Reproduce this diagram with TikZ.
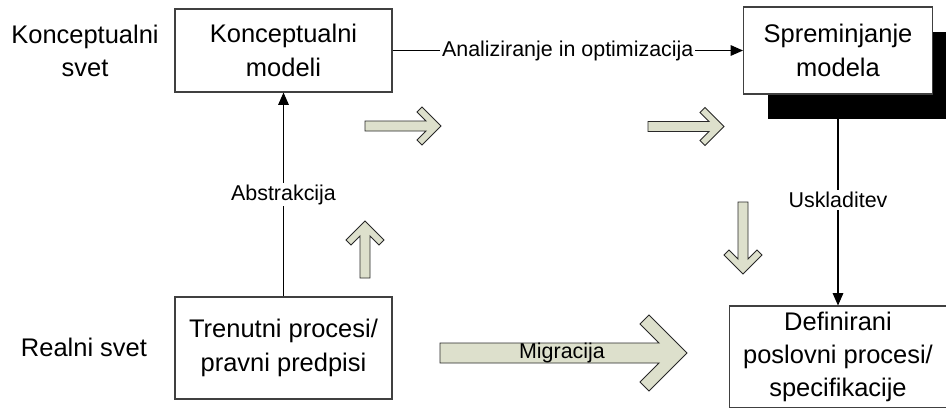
\documentclass[tikz,border=0pt]{standalone}
\usepackage{fontspec}
\setmainfont{Liberation Sans}
\usetikzlibrary{arrows.meta,shadows}

\definecolor{arrowfill}{RGB}{221,224,204}
\definecolor{arrowline}{RGB}{40,40,40}

% Chevron block arrow: tip x, tip y, angle, length, shaft half-width, head reach, arm cap
\newcommand\chevron[7]{%
  \draw[blockarrow, shift={(#1,#2)}, rotate=#3]
    (0,0) -- (-#6,-#6) -- ({-#6-#7},{-#6+#7}) -- ({-#5-2*#7},-#5) -- (-#4,-#5)
    -- (-#4,#5) -- ({-#5-2*#7},#5) -- ({-#6-#7},{#6-#7}) -- (-#6,#6) -- cycle;}

\tikzset{
  bigtext/.style={font=\fontsize{14.5}{19}\selectfont, align=center},
  smalltext/.style={font=\fontsize{12.2}{14}\selectfont},
  box/.style={draw=black!75, line width=0.6pt, fill=white, bigtext, inner sep=0pt},
  link/.style={draw=black, line width=0.6pt, -{Triangle[length=7pt,width=6pt]}},
  linklabel/.style={smalltext, fill=white, inner sep=1pt},
  blockarrow/.style={draw=arrowline, fill=arrowfill, line width=0.5pt, line join=miter},
}

\begin{document}
\begin{tikzpicture}[x=0.02cm, y=-0.02cm]
  \clip (0,0) rectangle (946,407);
  \fill[white] (0,0) rectangle (946,407);

  % world labels
  \node[bigtext] (kworld) at (85,51) {Konceptualni\\svet};
  \node[bigtext] (rworld) at (84,347) {Realni svet};

  % process boxes
  \node[box, minimum width=4.34cm, minimum height=1.66cm] (k) at (283.5,50.5) {Konceptualni\\modeli};
  \node[box, minimum width=3.78cm, minimum height=1.74cm,
        general shadow={fill=black, shadow xshift=0.48cm, shadow yshift=-0.5cm}] (s) at (838,50.5) {Spreminjanje\\modela};
  \node[box, minimum width=4.34cm, minimum height=2.04cm] (t) at (283.5,348) {Trenutni procesi/\\pravni predpisi};
  \node[box, minimum width=4.36cm, minimum height=2.04cm] (d) at (838,357) {Definirani\\poslovni procesi/\\specifikacije};

  % connectors
  \draw[link] (t.north) -- node[linklabel] (abs) {Abstrakcija} (k.south);
  \draw[link] (k.east) -- node[linklabel] (ana) {Analiziranje in optimizacija} (s.west);
  \draw[link] (s.south) -- node[linklabel, pos=0.5] (usk) {Uskladitev} (d.north);

  % flow arrows
  \chevron{441}{126}{0}{76}{5}{19}{5}
  \chevron{724}{126.5}{0}{76}{5}{19}{5}
  \chevron{365}{221}{90}{57}{5}{19}{5}
  \chevron{743}{274}{-90}{72}{5}{19}{5}
  \chevron{687}{353}{0}{247}{10}{38}{9}
  \node[smalltext, inner sep=0pt] (mig) at (562,353) {Migracija};
\end{tikzpicture}
\end{document}
